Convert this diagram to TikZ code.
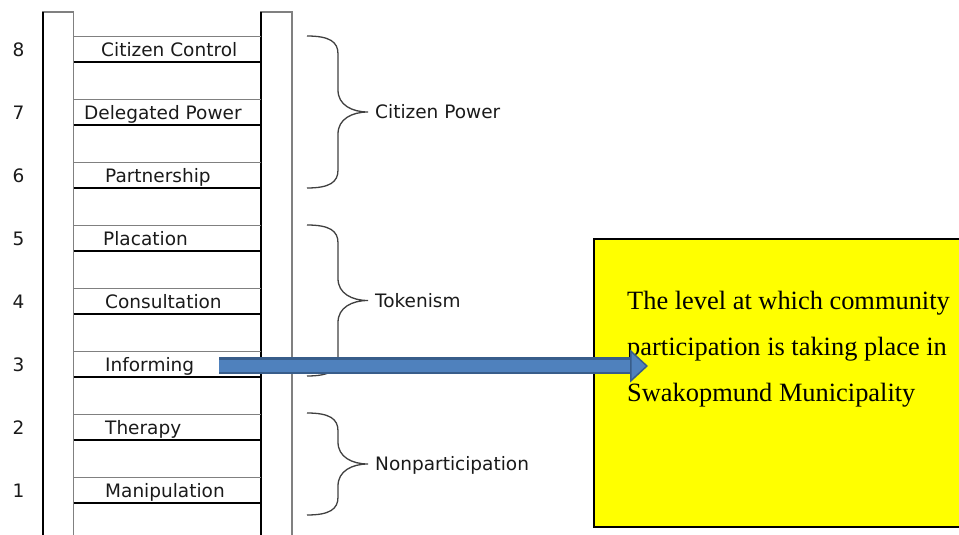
\documentclass[tikz,border=0pt]{standalone}
\usepackage{fontspec}
\setsansfont{DejaVu Sans}
\newfontfamily\boxfont{Liberation Serif}
\usetikzlibrary{positioning}
\usetikzlibrary{arrows.meta}

\definecolor{railgray}{HTML}{808080}
\definecolor{textgray}{HTML}{1A1A1A}
\definecolor{bracegray}{HTML}{404040}
\definecolor{arrowblue}{HTML}{4F81BD}
\definecolor{arrowdark}{HTML}{385D8A}
\definecolor{boxyellow}{HTML}{FFFF00}

\begin{document}
\begin{tikzpicture}[x=1pt, y=-1pt,
    rung/.style={font=\fontsize{18.5}{22}\selectfont\sffamily, text=textgray, anchor=base west, inner sep=0pt},
    bracestyle/.style={bracegray, line width=1.3pt},
    blockarrow/.style={draw=arrowblue, line width=12pt, shorten <=2pt,
        -{Triangle[length=18pt, width=33pt, fill=arrowblue, color=arrowdark, line width=1.5pt]},
        preaction={draw=arrowdark, line width=17pt, shorten >=16pt, arrows=-}}]

    \clip (0,0) rectangle (959,535);

    % rails
    \draw[railgray, line width=1.2pt] (42.5,12) rectangle (73.5,545);
    \draw[railgray, line width=1.2pt] (260.5,12) rectangle (292,545);
    \draw[line width=2pt] (43,12) -- (43,545);
    \draw[line width=2pt] (261,12) -- (261,545);

    % rungs
    \foreach \k/\name/\xpos in {8/Citizen Control/101, 7/Delegated Power/84, 6/Partnership/105,
        5/Placation/103, 4/Consultation/105, 3/Informing/105, 2/Therapy/105, 1/Manipulation/105}{
        \pgfmathsetmacro\yb{61.7+(8-\k)*63}
        \draw[railgray, line width=1.2pt] (73.5,\yb-25.3) -- (260.5,\yb-25.3);
        \draw[line width=2pt] (73.5,\yb) -- (261,\yb);
        \node(num\k)[rung] at (12.5,\yb-5.6) {\k};
        \node(rung\k)[rung] at (\xpos,\yb-5.6) {\name};
    }

    % braces
    \foreach \ytop/\ybot/\grp/\name in {36/188/cpower/Citizen Power, 225/376/token/Tokenism,
        413/515/nonpart/Nonparticipation}{
        \pgfmathsetmacro\ymid{(\ytop+\ybot)/2}
        \draw[bracestyle] (307,\ytop) .. controls (330,\ytop) and (338,\ytop+6) .. (338,\ytop+18)
            -- (338,\ymid-22) .. controls (338,\ymid-7) and (352,\ymid) .. (368,\ymid)
            .. controls (352,\ymid) and (338,\ymid+7) .. (338,\ymid+22)
            -- (338,\ybot-18) .. controls (338,\ybot-6) and (330,\ybot) .. (307,\ybot);
        \node(\grp)[rung] at (375,\ymid+6.5) {\name};
    }

    \node(levelbox)[draw, line width=2pt, fill=boxyellow, minimum width=380pt, minimum height=288pt,
        anchor=north west, inner sep=0pt] at (593,238) {};
    \node(leveltext)[font=\fontsize{26.4}{46}\selectfont\boxfont, align=left, anchor=base west,
        inner sep=0pt] at (627,401) {The level at which community\\participation is taking place in\\Swakopmund Municipality};

    \coordinate[right=23pt of rung3.east] (arrowtail);
    \draw[blockarrow] (arrowtail) -- ([xshift=55pt]levelbox.west |- arrowtail);

\end{tikzpicture}
\end{document}
